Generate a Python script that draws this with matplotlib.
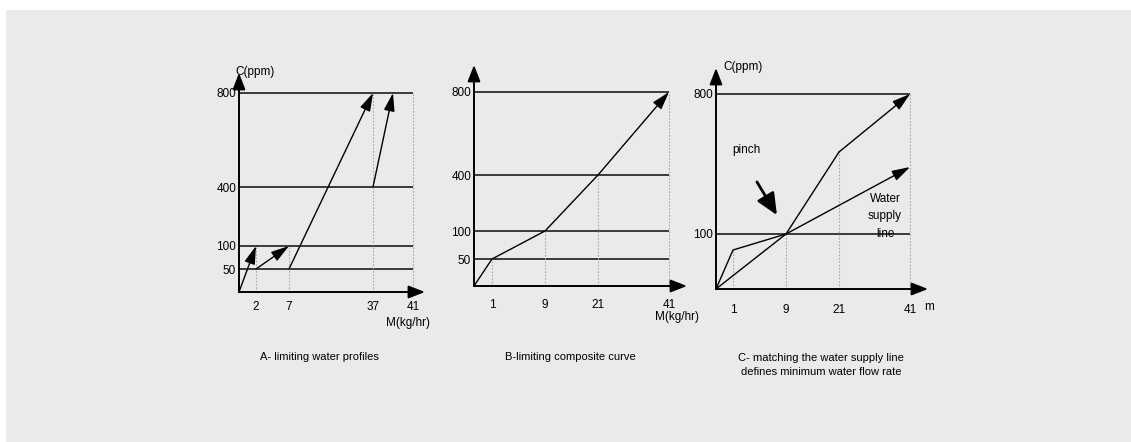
import numpy as np
import matplotlib
matplotlib.use('Agg')
import matplotlib.pyplot as plt
from matplotlib.patches import Rectangle

plt.rcParams['font.family'] = ['Liberation Sans', 'DejaVu Sans']

W, H = 1131, 442

# ---- data ----
# panel A: limiting water profiles
a_xticks = [2, 7, 37, 41]
a_yticks = [50, 100, 400, 800]
a_streams = [(0, 0, 2, 100), (2, 50, 7, 100), (7, 50, 37, 800), (37, 400, 39, 800)]
a_drop_x = [2, 7, 37, 41]
a_drop_c = [100, 100, 800, 800]

# panel B: limiting composite curve
b_xticks = [1, 9, 21, 41]
b_yticks = [50, 100, 400, 800]
comp_m = [0, 1, 9, 21, 41]
comp_c = [0, 50, 100, 400, 800]

# panel C: matching the water supply line
c_xticks = [1, 9, 21, 41]
c_yticks = [100, 800]
supply_m = [0, 9, 41]
supply_c = [0, 100, 345]

# ---- layout (pixel positions of scale knots, not data) ----
layout = {
    'A': dict(xk=[0, 2, 7, 37, 41], xp=[239, 256, 289, 373, 413], xtip=425,
              yk=[0, 50, 100, 400, 800], yp=[292, 269, 246, 187, 93], ytop=73, pad=6.5),
    'B': dict(xk=[0, 1, 9, 21, 41], xp=[474, 492, 545, 598, 669], xtip=687,
              yk=[0, 50, 100, 400, 800], yp=[286, 259, 231, 175, 92], ytop=65, pad=9),
    'C': dict(xk=[0, 1, 9, 21, 41], xp=[716, 733, 786, 839, 910], xtip=928,
              yk=[0, 50, 100, 400, 800], yp=[289, 250, 234, 152, 94], ytop=68, pad=10.5),
}


def make_scale(knots, pix):
    knots = np.asarray(knots, float)
    pix = np.asarray(pix, float)
    frac = (pix - pix[0]) / (pix[-1] - pix[0])
    s0 = (frac[1] - frac[0]) / (knots[1] - knots[0])
    s1 = (frac[-1] - frac[-2]) / (knots[-1] - knots[-2])

    def fwd(v):
        v = np.asarray(v, float)
        out = np.interp(v, knots, frac)
        out = np.where(v < knots[0], frac[0] + (v - knots[0]) * s0, out)
        out = np.where(v > knots[-1], frac[-1] + (v - knots[-1]) * s1, out)
        return out

    def inv(f):
        f = np.asarray(f, float)
        out = np.interp(f, frac, knots)
        out = np.where(f < frac[0], knots[0] + (f - frac[0]) / s0, out)
        out = np.where(f > frac[-1], knots[-1] + (f - frac[-1]) / s1, out)
        return out

    return fwd, inv


def make_panel(fig, lay, xticks, yticks):
    x0, x1 = lay['xp'][0], lay['xp'][-1]
    y0, y1 = lay['yp'][0], lay['yp'][-1]
    ax = fig.add_axes([x0 / W, 1 - y0 / H, (x1 - x0) / W, (y0 - y1) / H])
    ax.patch.set_visible(False)
    ax.set_xscale('function', functions=make_scale(lay['xk'], lay['xp']))
    ax.set_yscale('function', functions=make_scale(lay['yk'], lay['yp']))
    ax.set_xlim(lay['xk'][0], lay['xk'][-1])
    ax.set_ylim(lay['yk'][0], lay['yk'][-1])
    for s in ax.spines.values():
        s.set_visible(False)
    ax.set_xticks(xticks)
    ax.set_xticklabels([str(t) for t in xticks])
    ax.set_yticks(yticks)
    ax.set_yticklabels([str(t) for t in yticks])
    ax.minorticks_off()
    ax.tick_params(axis='x', length=0, pad=lay['pad'], labelsize=8.5)
    ax.tick_params(axis='y', length=0, pad=2, labelsize=8.5)
    # axis arrows
    xf = (lay['xtip'] - x0) / (x1 - x0)
    yf = (y0 - lay['ytop']) / (y0 - y1)
    ap = dict(arrowstyle='-|>,head_length=0.9,head_width=0.35', mutation_scale=11,
              color='black', lw=1.4, shrinkA=0, shrinkB=0)
    ax.annotate('', xy=(xf, 0), xytext=(0, 0), xycoords='axes fraction',
                arrowprops=ap, annotation_clip=False)
    ax.annotate('', xy=(0, yf), xytext=(0, 0), xycoords='axes fraction',
                arrowprops=ap, annotation_clip=False)
    return ax


def arrow(ax, x0, c0, x1, c1):
    ax.annotate('', xy=(x1, c1), xytext=(x0, c0),
                arrowprops=dict(arrowstyle='-|>,head_length=1.0,head_width=0.3',
                                mutation_scale=11, color='black', lw=1.0,
                                shrinkA=0, shrinkB=0),
                annotation_clip=False)


fig = plt.figure(figsize=(W / 100, H / 100), dpi=100)
fig.patch.set_facecolor('white')
fig.patches.append(Rectangle((6 / W, 0), 1, (H - 10) / H, transform=fig.transFigure,
                             facecolor='#eaeaea', edgecolor='none', zorder=-10))

hl = dict(color='#3a3a3a', lw=1.4, clip_on=False)
dl = dict(color='#a8a8a8', lw=0.8, linestyles=(0, (1.5, 1.5)), clip_on=False)

# ---- panel A ----
axA = make_panel(fig, layout['A'], a_xticks, a_yticks)
axA.hlines(a_yticks, 0, 41, **hl)
axA.vlines(a_drop_x, 0, a_drop_c, **dl)
for s in a_streams:
    arrow(axA, *s)

# ---- panel B ----
axB = make_panel(fig, layout['B'], b_xticks, b_yticks)
axB.hlines(b_yticks, 0, 41, **hl)
axB.vlines(comp_m[1:], 0, comp_c[1:], **dl)
axB.plot(comp_m[:-1], comp_c[:-1], color='black', lw=1.0, clip_on=False)
arrow(axB, comp_m[-2], comp_c[-2], comp_m[-1], comp_c[-1])

# ---- panel C ----
axC = make_panel(fig, layout['C'], c_xticks, c_yticks)
axC.hlines(c_yticks, 0, 41, **hl)
axC.vlines(comp_m[1:], 0, comp_c[1:], **dl)
axC.plot(comp_m[:-1], comp_c[:-1], color='black', lw=1.0, clip_on=False)
arrow(axC, comp_m[-2], comp_c[-2], comp_m[-1], comp_c[-1])
axC.plot(supply_m[:-1], supply_c[:-1], color='black', lw=1.0, clip_on=False)
arrow(axC, supply_m[-2], supply_c[-2], supply_m[-1], supply_c[-1])
axC.text(0.155, 0.713, 'pinch', transform=axC.transAxes, ha='center', va='center', fontsize=8.5)
axC.annotate('', xy=(0.314, 0.379), xytext=(0.211, 0.549), xycoords='axes fraction',
             arrowprops=dict(arrowstyle='-|>,head_length=1.0,head_width=0.45',
                             mutation_scale=13, color='black', lw=2.0,
                             shrinkA=0, shrinkB=0))
axC.text(0.871, 0.372, 'Water\nsupply\nline', transform=axC.transAxes,
         ha='center', va='center', fontsize=8.5, linespacing=1.6)

# ---- axis names and captions ----
fs = 8.5
fig.text(235 / W, 1 - 72 / H, 'C(ppm)', ha='left', va='center', fontsize=fs)
fig.text(723 / W, 1 - 67 / H, 'C(ppm)', ha='left', va='center', fontsize=fs)
fig.text(408 / W, 1 - 323 / H, 'M(kg/hr)', ha='center', va='center', fontsize=fs)
fig.text(677 / W, 1 - 317 / H, 'M(kg/hr)', ha='center', va='center', fontsize=fs)
fig.text(929 / W, 1 - 307 / H, 'm', ha='center', va='center', fontsize=fs)

fs = 8
fig.text(319 / W, 1 - 357 / H, 'A- limiting water profiles', ha='center', va='center', fontsize=fs)
fig.text(570 / W, 1 - 357 / H, 'B-limiting composite curve', ha='center', va='center', fontsize=fs)
fig.text(821 / W, 1 - 365 / H, 'C- matching the water supply line\ndefines minimum water flow rate',
         ha='center', va='center', fontsize=fs, linespacing=1.55)

fig.savefig('out.png', dpi=100, facecolor=fig.get_facecolor())
